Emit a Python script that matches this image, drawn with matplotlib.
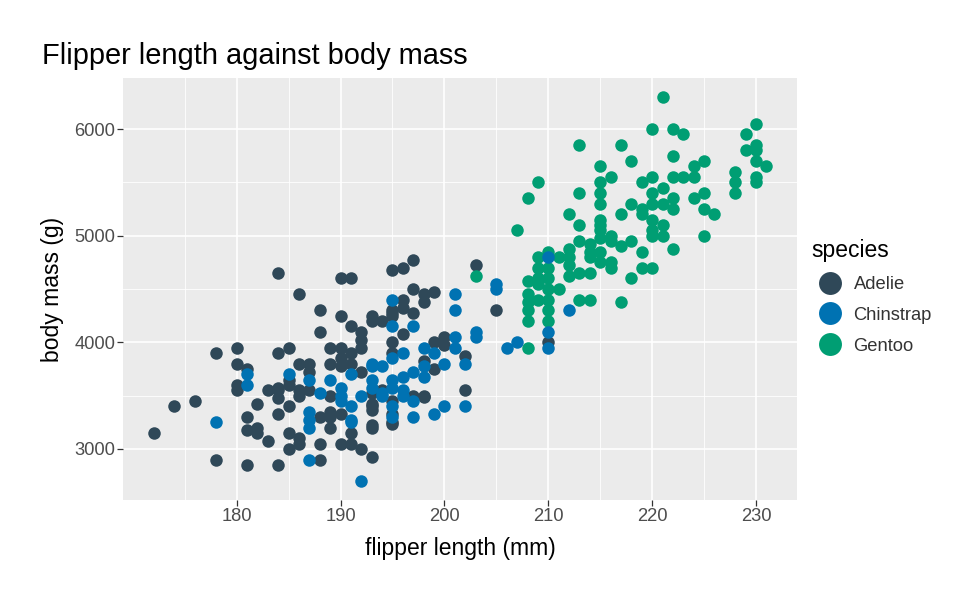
import matplotlib
matplotlib.use("Agg")
import matplotlib.pyplot as plt
from matplotlib.lines import Line2D

plt.rcParams['font.family'] = ['Liberation Sans', 'DejaVu Sans']

# values (flipper length mm, body mass g)
adelie_flipper = [184, 178, 180, 184, 185, 180, 181, 180, 180, 183, 184, 184, 185, 185,
                  176, 174, 172, 182, 181, 184, 185, 181, 182, 182, 183, 185, 185, 178,
                  181, 184, 186,
                  197, 196, 195, 190, 191, 197, 198, 199, 198, 196, 196, 195, 197, 195,
                  195, 188, 190, 193, 193, 194, 191, 192, 192, 188, 196, 195, 195, 199,
                  200, 200, 198, 199, 189, 190, 191, 192, 189, 190, 191, 190, 186, 187,
                  187, 192, 186, 187, 186, 189, 194, 189, 188, 190, 193, 184, 197, 198,
                  193, 195, 195, 193, 195, 189, 189, 191, 193, 188, 190, 191, 192, 193,
                  188, 186, 186, 193, 193, 195, 198,
                  203, 205, 202, 202, 210]
adelie_mass = [4650, 3900, 3950, 3900, 3950, 3800, 3750, 3600, 3550, 3550, 3550, 3475, 3650, 3600,
               3450, 3400, 3150, 3425, 3300, 3325, 3400, 3175, 3200, 3150, 3075, 3150, 3000, 2900,
               2850, 2850, 4450,
               4775, 4700, 4675, 4600, 4600, 4500, 4450, 4475, 4375, 4400, 4325, 4275, 4275, 4300,
               4250, 4300, 4250, 4250, 4200, 4200, 4150, 4100, 4025, 4100, 4075, 4000, 3900, 4000,
               4050, 3975, 3825, 3750, 3950, 3950, 3900, 3950, 3800, 3850, 3800, 3775, 3800, 3800,
               3725, 3725, 3550, 3550, 3500, 3500, 3550, 3350, 3300, 3325, 3400, 3575, 3500, 3500,
               3525, 3450, 3250, 3225, 3325, 3300, 3200, 3150, 3200, 3050, 3050, 3050, 3000, 2925,
               2900, 3100, 3050, 3425, 3360, 3234, 3490,
               4725, 4300, 3875, 3550, 4000]

chinstrap_flipper = [181, 181, 185, 178, 187, 189, 190, 191, 193, 194, 193, 193, 194, 192,
                     190, 191, 187, 191, 195, 187, 187, 187, 192, 188, 190, 191,
                     195, 201, 201, 195, 197, 196, 198, 199, 202, 200, 195, 193, 197, 198,
                     198, 196, 195, 195, 194, 196, 196, 197, 200, 202, 199, 197, 195, 201,
                     201, 203, 203, 205, 205, 206, 207, 210, 210, 212, 210]
chinstrap_mass = [3700, 3600, 3700, 3250, 3650, 3650, 3575, 3700, 3800, 3775, 3650, 3575, 3500, 3500,
                  3450, 3400, 3350, 3275, 3400, 3275, 3200, 2900, 2700, 3525, 3500, 3250,
                  4400, 4450, 4300, 4150, 4150, 3900, 3950, 3900, 3800, 3800, 3850, 3775, 3725, 3775,
                  3675, 3675, 3650, 3575, 3525, 3550, 3500, 3450, 3400, 3400, 3325, 3300, 3300, 4050,
                  3950, 4100, 4050, 4550, 4500, 3950, 4000, 3950, 4100, 4300, 4800]

gentoo_flipper = [203, 207, 208, 209,
                  208, 208, 208, 208, 208, 208,
                  209, 209, 209, 209, 209,
                  210, 210, 210, 210, 210, 210, 210,
                  211, 211,
                  212, 212, 212, 212, 212,
                  213, 213, 213, 213, 213, 213,
                  214, 214, 214, 214, 214,
                  215, 215, 215, 215, 215, 215, 215, 215, 215, 215,
                  216, 216, 216, 216, 216,
                  217, 217, 217, 217,
                  218, 218, 218, 218,
                  219, 219, 219, 219, 219,
                  220, 220, 220, 220, 220, 220, 220, 220,
                  221, 221, 221, 221, 221,
                  222, 222, 222, 222, 222, 222,
                  223, 223,
                  224, 224, 224,
                  225, 225, 225, 225,
                  226,
                  228, 228, 228,
                  229, 229,
                  230, 230, 230, 230, 230, 230,
                  231]
gentoo_mass = [4625, 5050, 5350, 5500,
               4575, 4450, 4375, 4300, 4200, 3950,
               4800, 4700, 4600, 4550, 4400,
               4850, 4700, 4600, 4500, 4400, 4300, 4200,
               4800, 4500,
               4875, 4800, 4725, 4625, 5200,
               5850, 5400, 5100, 4950, 4650, 4400,
               4925, 4850, 4650, 4400, 4800,
               5650, 5500, 5400, 5300, 5150, 5100, 5050, 4975, 4850, 4750,
               5550, 5000, 4950, 4750, 4700,
               5850, 5200, 4900, 4375,
               5700, 5300, 4950, 4600,
               5500, 5250, 5200, 4850, 4700,
               6000, 5550, 5400, 5300, 5150, 5050, 5000, 4700,
               6300, 5450, 5300, 5100, 5000,
               6000, 5750, 5550, 5350, 5250, 4875,
               5950, 5550,
               5650, 5550, 5350,
               5700, 5400, 5250, 5000,
               5200,
               5600, 5500, 5400,
               5950, 5800,
               6050, 5850, 5800, 5700, 5550, 5500,
               5650]

species = ['Adelie', 'Chinstrap', 'Gentoo']
colors = {'Adelie': '#2F4858', 'Chinstrap': '#0072B2', 'Gentoo': '#009E73'}
x_ticks = [180, 190, 200, 210, 220, 230]
x_minor = [175, 185, 195, 205, 215, 225]
y_ticks = [3000, 4000, 5000, 6000]
y_minor = [3500, 4500, 5500]

fig = plt.figure(figsize=(6.5, 4), dpi=150)
ax = fig.add_axes([123 / 975, 100 / 600, 674 / 975, 422 / 600])
ax.set_facecolor('#EBEBEB')

# drawn in dataset order: Adelie, Gentoo, Chinstrap
ax.scatter(adelie_flipper, adelie_mass, s=36, color=colors['Adelie'], linewidths=0, zorder=3)
ax.scatter(gentoo_flipper, gentoo_mass, s=36, color=colors['Gentoo'], linewidths=0, zorder=3)
ax.scatter(chinstrap_flipper, chinstrap_mass, s=36, color=colors['Chinstrap'], linewidths=0, zorder=3)

allf = adelie_flipper + chinstrap_flipper + gentoo_flipper
allm = adelie_mass + chinstrap_mass + gentoo_mass
fr = max(allf) - min(allf)
mr = max(allm) - min(allm)
ax.set_xlim(min(allf) - 0.05 * fr, max(allf) + 0.05 * fr)
ax.set_ylim(min(allm) - 0.05 * mr, max(allm) + 0.05 * mr)

ax.set_xticks(x_ticks)
ax.set_xticks(x_minor, minor=True)
ax.set_yticks(y_ticks)
ax.set_yticks(y_minor, minor=True)
ax.grid(which='major', color='white', linewidth=0.8, zorder=1)
ax.grid(which='minor', color='white', linewidth=0.4, zorder=1)
ax.set_axisbelow(True)
for sp in ax.spines.values():
    sp.set_visible(False)
ax.tick_params(which='major', length=2.75, width=0.6, color='#333333',
               labelcolor='#4D4D4D', labelsize=8.8, pad=1)
ax.tick_params(which='minor', length=0)

ax.set_xlabel('flipper length (mm)', fontsize=11, labelpad=6)
ax.set_ylabel('body mass (g)', fontsize=11, labelpad=5)
fig.text(42 / 975, 1 - 56 / 600, 'Flipper length against body mass', fontsize=13.9,
         ha='left', va='center')

handles = [Line2D([], [], linestyle='none', marker='o', markersize=11,
                  markerfacecolor=colors[sp], markeredgewidth=0) for sp in species]
leg = fig.legend(handles, species, title='species', loc='center left',
                 bbox_to_anchor=(804 / 975, 1 - 297 / 600), frameon=False,
                 fontsize=8.8, title_fontsize=11, handletextpad=0.3,
                 labelspacing=0.75, borderaxespad=0)
leg._legend_box.align = 'left'
for t in leg.get_texts():
    t.set_color('#333333')

fig.savefig('out.png', dpi=150)
